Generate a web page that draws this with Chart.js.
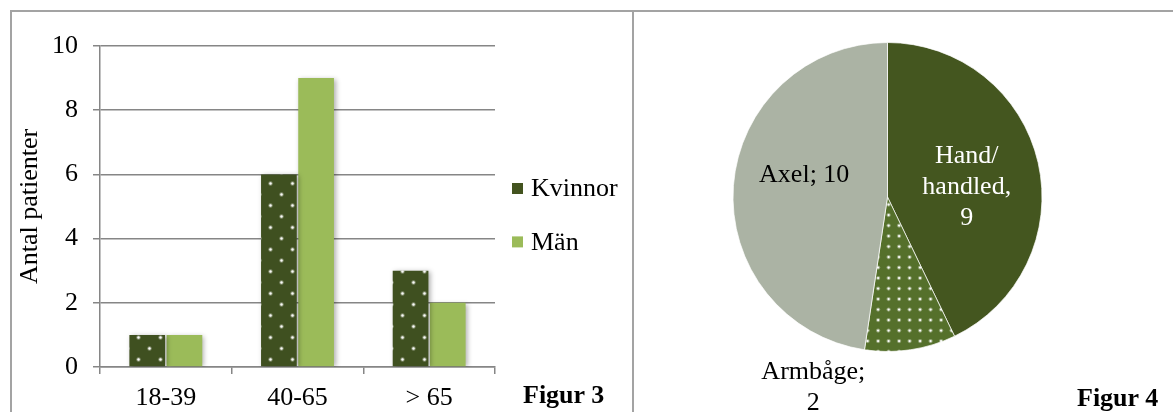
<!DOCTYPE html>
<html lang="sv">
<head>
<meta charset="utf-8">
<script src="https://cdn.jsdelivr.net/npm/chart.js@4.4.1/dist/chart.umd.min.js"></script>
<style>
  html, body { margin: 0; padding: 0; background: #fff; }
  #page { position: relative; width: 1173px; height: 412px; overflow: hidden; background: #fff; }
  .rule { position: absolute; background: #a3a3a3; }
  canvas { position: absolute; }
  .caption { position: absolute; font-family: "Liberation Serif", "Times New Roman", serif; font-weight: bold;
             font-size: 26px; line-height: 26px; color: #000; white-space: nowrap; }
</style>
</head>
<body>
<div id="page">
  <div class="rule" style="left:10px; top:10px; width:1163px; height:2px;"></div>
  <div class="rule" style="left:10px; top:10px; width:2px; height:402px;"></div>
  <div class="rule" style="left:632px; top:10px; width:2px; height:402px;"></div>

  <div style="position:absolute; left:12px; top:13px; width:619px; height:399px;">
    <canvas id="barChart" width="619" height="399"></canvas>
  </div>
  <div style="position:absolute; left:634px; top:13px; width:539px; height:399px;">
    <canvas id="pieChart" width="539" height="399"></canvas>
  </div>

  <div class="caption" style="left:523px; top:382px;">Figur 3</div>
  <div class="caption" style="left:1077px; top:385px;">Figur 4</div>
</div>

<script>
// ---- Figur 3: patients per age group ----
const ageGroups = ['18-39', '40-65', '> 65'];
const kvinnor = [1, 6, 3];
const man = [1, 9, 2];
const seriesNames = ['Kvinnor', 'Män'];
const yTicks = [0, 2, 4, 6, 8, 10];
const yTitle = 'Antal patienter';

// ---- Figur 4: injury location ----
const locations = ['Hand/handled', 'Armbåge', 'Axel'];
const locationCounts = [9, 2, 10];
const locationLabels = ['Hand/\nhandled,\n{v}', 'Armbåge;\n{v}', 'Axel; {v}'];

const SERIF = '"Liberation Serif", "Times New Roman", serif';
const DARK = '#3f5020';
const LIGHT = '#9bbb59';

// dotted fills
function dotPattern(bg, tile, dots, r) {
  const c = document.createElement('canvas');
  c.width = tile; c.height = tile;
  const g = c.getContext('2d');
  g.fillStyle = bg;
  g.fillRect(0, 0, tile, tile);
  dots.forEach(([x, y]) => {
    g.fillStyle = 'rgba(255,255,255,0.35)';
    g.beginPath(); g.arc(x, y, r + 1, 0, Math.PI * 2); g.fill();
    g.fillStyle = 'rgba(255,255,255,0.95)';
    g.beginPath(); g.arc(x, y, r, 0, Math.PI * 2); g.fill();
  });
  return g.createPattern(c, 'repeat');
}
const ctxBar = document.getElementById('barChart').getContext('2d');
const barDots = dotPattern(DARK, 22, [[5.5, 5.5], [16.5, 16.5]], 1.2);
const pieDots = dotPattern('#55702b', 21, [[2.6, 2.6], [13.1, 2.6], [2.6, 13.1], [13.1, 13.1]], 1.15);

// soft drop shadow behind the bars
const barShadow = {
  id: 'barShadow',
  beforeDatasetsDraw(chart) {
    const c = chart.ctx;
    c.save();
    c.shadowColor = 'rgba(0,0,0,0.32)';
    c.shadowBlur = 5;
    c.shadowOffsetX = 2;
    c.shadowOffsetY = 1;
  },
  afterDatasetsDraw(chart) { chart.ctx.restore(); }
};

// legend to the right of the plot
const sideLegend = {
  id: 'sideLegend',
  afterDraw(chart, args, opts) {
    const c = chart.ctx;
    const a = chart.chartArea;
    c.save();
    c.font = '26px ' + SERIF;
    c.textBaseline = 'middle';
    c.textAlign = 'left';
    chart.data.datasets.forEach((ds, i) => {
      const cy = a.top + opts.firstOffset + i * opts.spacing;
      const bx = a.right + opts.gap;
      c.fillStyle = opts.colors[i];
      c.fillRect(bx, cy - opts.box / 2, opts.box, opts.box);
      c.fillStyle = '#000';
      c.fillText(ds.label, bx + opts.box + opts.textGap, cy + 1);
    });
    c.restore();
  }
};

new Chart(ctxBar, {
  type: 'bar',
  data: {
    labels: ageGroups,
    datasets: [
      { label: seriesNames[0], data: kvinnor, backgroundColor: barDots },
      { label: seriesNames[1], data: man, backgroundColor: LIGHT }
    ]
  },
  options: {
    responsive: false,
    animation: false,
    events: [],
    layout: { padding: { left: 0, right: 136, top: 33, bottom: 0 } },
    datasets: { bar: { categoryPercentage: 0.565, barPercentage: 0.96 } },
    plugins: {
      legend: { display: false },
      tooltip: { enabled: false },
      sideLegend: { colors: ['#43531f', LIGHT], firstOffset: 142.5, spacing: 53.4, gap: 17, box: 11, textGap: 8 }
    },
    scales: {
      x: {
        grid: { offset: true, drawOnChartArea: false, drawTicks: true, tickLength: 7, color: '#868686', lineWidth: 1.5 },
        border: { color: '#868686', width: 1.5 },
        ticks: { color: '#000', font: { family: SERIF, size: 26 }, padding: 9, maxRotation: 0 },
        afterFit(s) { s.height = 45; }
      },
      y: {
        min: 0, max: 10,
        afterBuildTicks(s) { s.ticks = yTicks.map(v => ({ value: v })); },
        grid: { color: '#868686', lineWidth: 1.5, drawTicks: true, tickLength: 7 },
        border: { color: '#868686', width: 1.5 },
        ticks: { color: '#000', font: { family: SERIF, size: 26 }, padding: 15 },
        title: { display: true, text: yTitle, color: '#000', font: { family: SERIF, size: 26 }, padding: { top: 3, bottom: 0 } },
        afterFit(s) { s.width = 88; }
      }
    }
  },
  plugins: [barShadow, sideLegend]
});

// labels placed around the pie, relative to its radius
const pieLabels = {
  id: 'pieLabels',
  afterDatasetsDraw(chart, args, opts) {
    const c = chart.ctx;
    const meta = chart.getDatasetMeta(0);
    c.save();
    c.font = '26px ' + SERIF;
    c.textAlign = 'center';
    c.textBaseline = 'middle';
    meta.data.forEach((arc, i) => {
      const { x, y, outerRadius } = arc.getProps(['x', 'y', 'outerRadius'], true);
      const v = chart.data.datasets[0].data[i];
      const lines = locationLabels[i].replace('{v}', v).split('\n');
      const [fx, fy] = opts.offsets[i];
      const cx = x + fx * outerRadius;
      const cy = y + fy * outerRadius;
      const lh = 31;
      c.fillStyle = opts.colors[i];
      lines.forEach((t, k) => {
        c.fillText(t, cx, cy + (k - (lines.length - 1) / 2) * lh);
      });
    });
    c.restore();
  }
};

new Chart(document.getElementById('pieChart').getContext('2d'), {
  type: 'pie',
  data: {
    labels: locations,
    datasets: [{
      data: locationCounts,
      backgroundColor: ['#44561f', pieDots, '#abb3a4'],
      borderColor: 'rgba(255,255,255,0.7)',
      borderWidth: 1
    }]
  },
  options: {
    responsive: false,
    animation: false,
    events: [],
    layout: { padding: { left: 98.5, right: 130.5, top: 29, bottom: 60 } },
    plugins: {
      legend: { display: false },
      tooltip: { enabled: false },
      pieLabels: {
        colors: ['#ffffff', '#000000', '#000000'],
        offsets: [[0.513, -0.065], [-0.48, 1.232], [-0.539, -0.142]]
      }
    }
  },
  plugins: [pieLabels]
});
</script>
</body>
</html>
